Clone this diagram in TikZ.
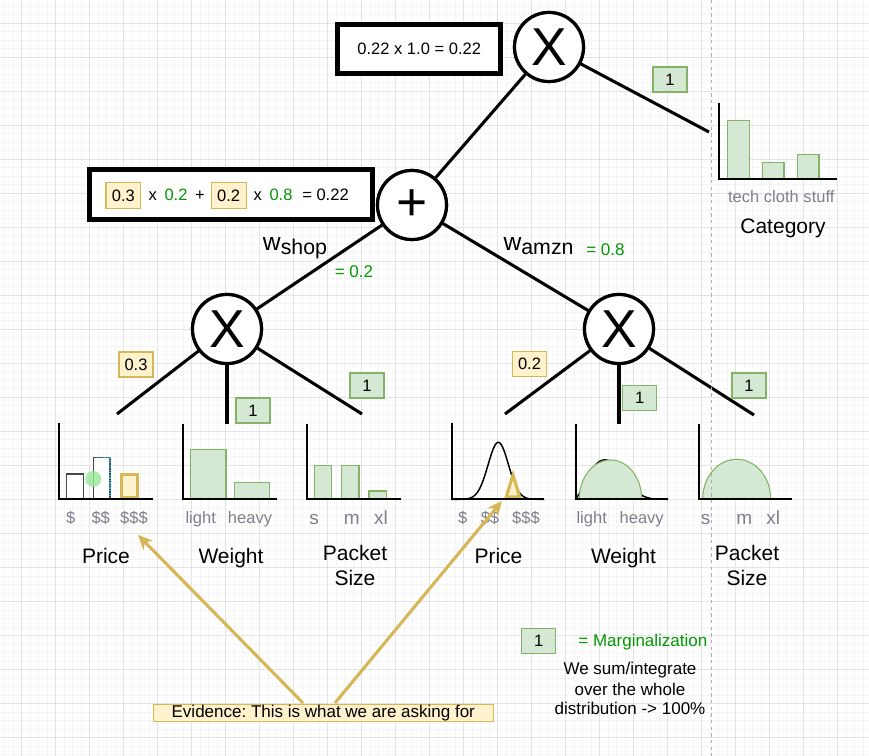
\documentclass[tikz,border=0pt]{standalone}
\usepackage{fontspec}
\setmainfont{Liberation Sans}
\usetikzlibrary{arrows.meta}
\frenchspacing
\definecolor{gfill}{HTML}{D5E8D4}
\definecolor{gline}{HTML}{82B366}
\definecolor{yfill}{HTML}{FFF2CC}
\definecolor{yline}{HTML}{D6B656}
\definecolor{gtext}{HTML}{009900}
\definecolor{axgray}{RGB}{125,128,138}
\definecolor{gridminor}{RGB}{245,245,245}
\definecolor{gridmajor}{RGB}{228,228,228}
\definecolor{dashgray}{RGB}{175,175,175}
\definecolor{bargray}{RGB}{70,70,70}
\definecolor{selblue}{RGB}{40,170,230}
\definecolor{selgreen}{RGB}{150,230,150}
\begin{document}
\begin{tikzpicture}[x=0.75pt,y=-0.75pt,
  f16/.style={font=\fontsize{12.4pt}{15pt}\selectfont},
  f17/.style={font=\fontsize{12.75pt}{15pt}\selectfont},
  f21/.style={font=\fontsize{15.75pt}{18.75pt}\selectfont},
  op/.style={circle,draw,fill=white,line width=2.4pt,minimum size=51.75pt,inner sep=0pt,font=\fontsize{40pt}{40pt}\selectfont},
  edge/.style={line width=2.3pt},
  axisln/.style={line width=1.5pt},
  gbar/.style={fill=gfill,draw=gline,line width=0.8pt},
  gbox/.style={fill=gfill,draw=gline,line width=0.8pt,minimum width=25.5pt,minimum height=18.75pt,inner sep=0pt,f16},
  ybox/.style={fill=yfill,draw=yline,line width=0.8pt,minimum width=25.5pt,minimum height=18.75pt,inner sep=0pt,f16},
  eqbox/.style={draw,line width=3.6pt,fill=white,inner sep=0pt},
  txt/.style={inner sep=0pt,anchor=base},
  axlbl/.style={f16,text=axgray,inner sep=0pt,anchor=base},
  szlbl/.style={font=\fontsize{14.25pt}{16pt}\selectfont,text=axgray,inner sep=0pt,anchor=base},
  title/.style={f21,inner sep=0pt,anchor=base},
  evarrow/.style={draw=yline,line width=2.3pt,-{Stealth[length=11pt,width=10pt]}},
]
\useasboundingbox (0,0) rectangle (869,756);
% background grid
\fill[white] (0,0) rectangle (869,756);
\foreach \x in {4.5,13,...,869} \draw[gridminor,line width=0.75pt] (\x,0) -- (\x,756);
\foreach \y in {6.5,15,...,756} \draw[gridminor,line width=0.75pt] (0,\y) -- (869,\y);
\foreach \x in {21.5,55.5,...,869} \draw[gridmajor,line width=0.75pt] (\x,0) -- (\x,756);
\foreach \y in {23.5,57.5,...,756} \draw[gridmajor,line width=0.75pt] (0,\y) -- (869,\y);

% operator nodes
\node[op] (mT) at (549,47) {X};
\node[op] (pl) at (412,205) {+};
\node[op] (mL) at (227,329) {X};
\node[op] (mR) at (619,329) {X};

\coordinate (catIn) at (709,132);
\coordinate (lP) at (117,414);
\coordinate (lW) at (227,424);
\coordinate (lS) at (362,414);
\coordinate (rP) at (505,414);
\coordinate (rW) at (619,424);
\coordinate (rS) at (754,415);

\draw[edge] (mT) -- (catIn);
\draw[edge] (mT) -- (pl);
\draw[edge] (pl) -- (mL);
\draw[edge] (pl) -- (mR);
\draw[edge] (mL) -- (lP);
\draw[edge] (mL) -- (lW);
\draw[edge] (mL) -- (lS);
\draw[edge] (mR) -- (rP);
\draw[edge] (mR) -- (rW);
\draw[edge] (mR) -- (rS);

% redraw circles on top of edges
\node[op] at (mT) {X};
\node[op] at (pl) {+};
\node[op] at (mL) {X};
\node[op] at (mR) {X};

% equation boxes
\node[eqbox,minimum width=122.5pt,minimum height=36.3pt,f16] (eqA) at (419.2,49) {0.22 x 1.0 = 0.22};
\node[eqbox,minimum width=212pt,minimum height=37pt] (eqB) at (231.2,194.5) {};
\node[ybox,minimum width=26pt,minimum height=19.7pt] (e1) at (123.3,195.8) {0.3};
\node[txt,f16] (e2) at (152.7,201) {x};
\node[txt,f16,text=gtext] (e3) at (176,201) {0.2};
\node[txt,f16] (e4) at (200,201) {+};
\node[ybox,minimum width=26pt,minimum height=19.7pt] (e5) at (228.7,195.8) {0.2};
\node[txt,f16] (e6) at (257.7,201) {x};
\node[txt,f16,text=gtext] (e7) at (281,201) {0.8};
\node[txt,f16] (e8) at (325.5,201) {= 0.22};

% weights
\node[inner sep=0pt,anchor=base west] (wshop) at (262.7,250.7) {{\fontsize{18.5pt}{18.5pt}\selectfont w}{\fontsize{16pt}{16pt}\selectfont\raisebox{-3.2pt}{shop}}};
\node[txt,f17,text=gtext] (wshopv) at (354,277.8) {= 0.2};
\node[inner sep=0pt,anchor=base west] (wamzn) at (503.3,250.7) {{\fontsize{18.5pt}{18.5pt}\selectfont w}{\fontsize{16pt}{16pt}\selectfont\raisebox{-3.2pt}{amzn}}};
\node[txt,f17,text=gtext] (wamznv) at (605.5,255.4) {= 0.8};

% value boxes
\node[gbox] (g1) at (670,79.5) {1};
\node[gbox] (g2) at (253,410.5) {1};
\node[gbox] (g3) at (367,385.5) {1};
\node[gbox] (g4) at (639.7,398.3) {1};
\node[gbox] (g5) at (749,385.5) {1};
\node[ybox] (y1) at (136,364.5) {0.3};
\node[ybox] (y2) at (529.5,364) {0.2};

% ---- Category chart
\draw[gbar] (727.7,120.7) rectangle (749.3,179.3);
\draw[gbar] (762.7,162.3) rectangle (784,179.3);
\draw[gbar] (797.3,154.3) rectangle (819,179.3);
\draw[axisln] (719,103.3) -- (719,179.3) -- (837.3,179.3);
\node[axlbl] (catl) at (781.3,202.7) {tech cloth stuff};
\node[title] (catt) at (783,234) {Category};

% ---- Price 1
\draw[bargray,line width=1pt,fill=white] (66.7,474) rectangle (83.3,499);
\draw[bargray,line width=1pt,fill=white] (93.3,457.7) rectangle (110,499);
\draw[selblue,line width=0.9pt,densely dotted] (96.7,457.7) -- (110,457.7) -- (110,499) -- (96.7,499);
\fill[selgreen,opacity=0.8] (93.3,479) circle[radius=6pt];
\draw[yline,line width=2.3pt,fill=yfill] (121.5,474.5) rectangle (137.5,497.5);
\draw[axisln] (59.3,423) -- (59.3,499.3) -- (152.7,499.3);
\node[axlbl] (p1a) at (70.7,523) {\$};
\node[axlbl] (p1b) at (100.7,523) {\$\$};
\node[axlbl] (p1c) at (134,523) {\$\$\$};
\node[title] (p1t) at (106,563.5) {Price};

% ---- Weight 1
\draw[gbar] (190.7,449.3) rectangle (226,499);
\draw[gbar] (234.3,482.3) rectangle (269.3,499);
\draw[axisln] (183.3,424) -- (183.3,499.3) -- (276.7,499.3);
\node[axlbl] (w1a) at (200.7,523) {light};
\node[axlbl] (w1b) at (250,523) {heavy};
\node[title] (w1t) at (231,563.5) {Weight};

% ---- Packet size 1
\draw[gbar] (314.3,465.7) rectangle (331.7,499);
\draw[gbar] (341.7,465.7) rectangle (359,499);
\draw[gbar] (369,491) rectangle (386.7,499);
\draw[axisln] (307,424) -- (307,499) -- (401,499);
\node[szlbl] (s1a) at (314,524.3) {s};
\node[szlbl] (s1b) at (351.7,524.3) {m};
\node[szlbl] (s1c) at (381,524.3) {xl};
\node[title] (s1t) at (355,560.5) {Packet};
\node[title] (s1u) at (355,585.5) {Size};

% ---- Price 2
\draw[line width=1.1pt] plot[domain=452:544,samples=90,smooth] (\x,{499.3-57*exp(-((\x-498.3)^2)/208)});
\draw[yline,line width=2.3pt,fill=yfill,line join=miter] (506.3,496.8) -- (519.7,496.8) -- (513,475) -- cycle;
\draw[axisln] (451.7,423) -- (451.7,499.3) -- (544.3,499.3);
\node[axlbl] (p2a) at (462.7,523) {\$};
\node[axlbl] (p2b) at (490,523) {\$\$};
\node[axlbl] (p2c) at (526,523) {\$\$\$};
\node[title] (p2t) at (498.5,563.5) {Price};

% ---- Weight 2
\draw[line width=1.1pt] (575.7,499) .. controls (584,489) and (592,460.5) .. (604,459.8) .. controls (620,460) and (632,481) .. (642,495.5) .. controls (650,499) .. (668,499.3);
\draw[gbar] (579.3,499) arc[start angle=180,end angle=0,x radius=23.4pt,y radius=29.25pt] -- cycle;
\draw[axisln] (575.7,424) -- (575.7,499.3) -- (668.3,499.3);
\node[axlbl] (w2a) at (591.7,523) {light};
\node[axlbl] (w2b) at (641.7,523) {heavy};
\node[title] (w2t) at (623.5,563.5) {Weight};

% ---- Packet size 2
\draw[gbar] (702.7,499) arc[start angle=180,end angle=0,x radius=25.5pt,y radius=29.8pt] -- cycle;
\draw[axisln] (699.3,424) -- (699.3,499.3) -- (792.3,499.3);
\node[szlbl] (s2a) at (705.7,524.3) {s};
\node[szlbl] (s2b) at (744.3,524.3) {m};
\node[szlbl] (s2c) at (773.3,524.3) {xl};
\node[title] (s2t) at (747,560.5) {Packet};
\node[title] (s2u) at (747,585.5) {Size};

% dashed separator
\draw[dashgray,line width=0.75pt,dash pattern=on 2.5pt off 2.5pt] (711,0) -- (711,756);

% legend
\node[gbox] (g6) at (538.7,640.8) {1};
\node[txt,f17,text=gtext] (leg1) at (642.9,646.8) {= Marginalization};
\node[txt,f17] (leg2) at (630,674.4) {We sum/integrate};
\node[txt,f17] (leg3) at (630,695.1) {over the whole};
\node[txt,f17] (leg4) at (630,714.4) {distribution -> 100\%};

% evidence
\node[fill=yfill,draw=yline,line width=0.8pt,minimum width=255pt,minimum height=13pt,inner sep=0pt,f17] (ev) at (323.3,713) {Evidence: This is what we are asking for};
\coordinate (evA) at (303,703);
\coordinate (tipA) at (138,535);
\coordinate (evB) at (335,703);
\coordinate (tipB) at (502,501);
\draw[evarrow] (evA) -- (tipA);
\draw[evarrow] (evB) -- (tipB);
\end{tikzpicture}
\end{document}
